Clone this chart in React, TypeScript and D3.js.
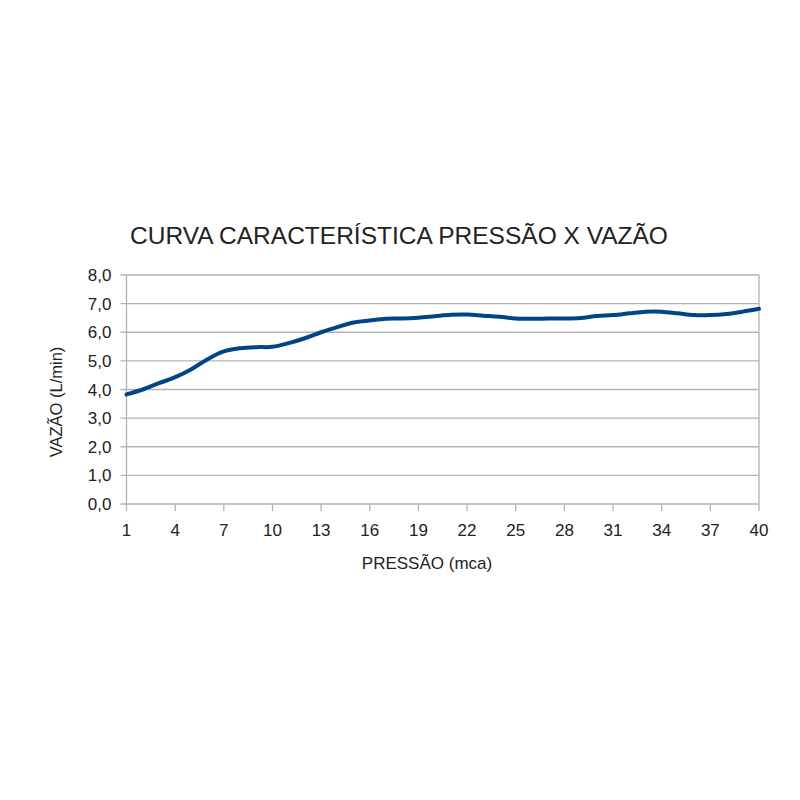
import React, { useEffect, useRef } from "react";
import * as d3 from "d3";

// PRESSÃO (mca) categories and VAZÃO (L/min)
const pressao = [
  1, 2, 3, 4, 5, 6, 7, 8, 9, 10, 11, 12, 13, 14, 15, 16, 17, 18, 19, 20,
  21, 22, 23, 24, 25, 26, 27, 28, 29, 30, 31, 32, 33, 34, 35, 36, 37, 38, 39, 40,
];
const vazao = [
  3.83, 4.0, 4.22, 4.43, 4.71, 5.06, 5.33, 5.44, 5.48, 5.49,
  5.62, 5.79, 6.0, 6.18, 6.34, 6.41, 6.47, 6.48, 6.51, 6.56,
  6.61, 6.62, 6.58, 6.54, 6.48, 6.47, 6.48, 6.48, 6.5, 6.57,
  6.6, 6.66, 6.72, 6.72, 6.66, 6.6, 6.6, 6.64, 6.72, 6.82,
];
const xTickLabels = [1, 4, 7, 10, 13, 16, 19, 22, 25, 28, 31, 34, 37, 40];
const yTickLabels = [0, 1, 2, 3, 4, 5, 6, 7, 8];

const title = "CURVA CARACTERÍSTICA PRESSÃO X VAZÃO";
const xTitle = "PRESSÃO (mca)";
const yTitle = "VAZÃO (L/min)";

const App = () => {
  const ref = useRef<SVGSVGElement>(null);

  useEffect(() => {
    const svg = d3.select(ref.current);
    svg.selectAll("*").remove();

    const left = 126.5, right = 759, top = 275, bottom = 504;
    const font = "'Liberation Sans', Arial, sans-serif";
    const grid = "#b3b3b3";
    const textColor = "#222";

    const x = d3.scaleLinear().domain([1, 40]).range([left, right]);
    const y = d3.scaleLinear().domain([0, 8]).range([bottom, top]);

    svg.append("rect").attr("width", 800).attr("height", 800).attr("fill", "#fff");

    // horizontal grid + left tick stubs
    svg
      .append("g")
      .selectAll("line")
      .data(yTickLabels)
      .enter()
      .append("line")
      .attr("x1", left - 6)
      .attr("x2", right)
      .attr("y1", d => y(d))
      .attr("y2", d => y(d))
      .attr("stroke", grid)
      .attr("stroke-width", 1.3);

    // axis frame lines (left + right)
    svg
      .append("g")
      .selectAll("line")
      .data([left, right])
      .enter()
      .append("line")
      .attr("x1", d => d)
      .attr("x2", d => d)
      .attr("y1", top)
      .attr("y2", bottom)
      .attr("stroke", grid)
      .attr("stroke-width", 1.3);

    // x tick marks
    svg
      .append("g")
      .selectAll("line")
      .data(xTickLabels)
      .enter()
      .append("line")
      .attr("x1", d => x(d))
      .attr("x2", d => x(d))
      .attr("y1", bottom)
      .attr("y2", bottom + 7)
      .attr("stroke", grid)
      .attr("stroke-width", 1.3);

    // y tick labels
    svg
      .append("g")
      .selectAll("text")
      .data(yTickLabels)
      .enter()
      .append("text")
      .attr("x", left - 15)
      .attr("y", d => y(d) + 6)
      .attr("text-anchor", "end")
      .attr("font-family", font)
      .attr("font-size", 17)
      .attr("fill", textColor)
      .text(d => d3.format(".1f")(d).replace(".", ","));

    // x tick labels
    svg
      .append("g")
      .selectAll("text")
      .data(xTickLabels)
      .enter()
      .append("text")
      .attr("x", d => x(d))
      .attr("y", 536)
      .attr("text-anchor", "middle")
      .attr("font-family", font)
      .attr("font-size", 17)
      .attr("fill", textColor)
      .text(d => String(d));

    // data line
    const line = d3
      .line<number>()
      .x((d, i) => x(pressao[i]))
      .y(d => y(d))
      .curve(d3.curveCatmullRom.alpha(0.5));
    svg
      .append("path")
      .datum(vazao)
      .attr("d", line)
      .attr("fill", "none")
      .attr("stroke", "#004586")
      .attr("stroke-width", 4)
      .attr("stroke-linecap", "round");

    // titles
    svg
      .append("text")
      .attr("x", 399)
      .attr("y", 244)
      .attr("text-anchor", "middle")
      .attr("font-family", font)
      .attr("font-size", 24.5)
      .attr("fill", textColor)
      .text(title);
    svg
      .append("text")
      .attr("x", 427)
      .attr("y", 569)
      .attr("text-anchor", "middle")
      .attr("font-family", font)
      .attr("font-size", 17)
      .attr("fill", textColor)
      .text(xTitle);
    svg
      .append("text")
      .attr("transform", "translate(62 402) rotate(-90)")
      .attr("text-anchor", "middle")
      .attr("font-family", font)
      .attr("font-size", 16.5)
      .attr("fill", textColor)
      .text(yTitle);
  }, []);

  return (
    <svg
      ref={ref}
      width={800}
      height={800}
      style={{ position: "absolute", left: 0, top: 0, display: "block" }}
    />
  );
};

export default App;
